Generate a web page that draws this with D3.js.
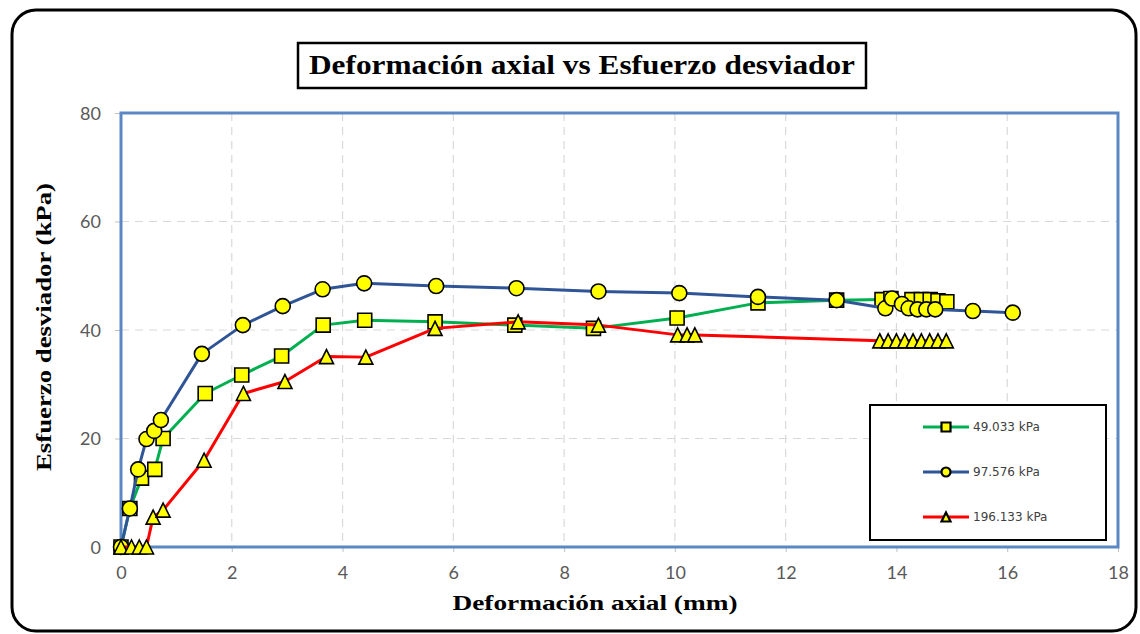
<!DOCTYPE html>
<html>
<head>
<meta charset="utf-8">
<script src="https://cdn.jsdelivr.net/npm/d3@7"></script>
<style>
  html, body { margin: 0; padding: 0; background: #ffffff; }
  svg { display: block; }
</style>
</head>
<body>
<svg id="chart" width="1140" height="634"></svg>
<script>
// Axis ticks
const xTicks = [0, 2, 4, 6, 8, 10, 12, 14, 16, 18];
const yTicks = [0, 20, 40, 60, 80];

// Confining pressure 49.033 kPa
const strain49 = [0, 0.16, 0.37, 0.61, 0.76, 1.52, 2.18, 2.90, 3.65, 4.40, 5.67, 7.11, 8.53, 10.04, 11.50, 12.92, 13.74, 13.90, 14.28, 14.45, 14.61, 14.75, 14.91];
const stress49 = [0, 7.1, 12.7, 14.3, 20.0, 28.3, 31.7, 35.2, 40.9, 41.8, 41.5, 40.9, 40.3, 42.2, 45.0, 45.5, 45.6, 45.8, 45.6, 45.6, 45.6, 45.4, 45.2];

// Confining pressure 97.576 kPa
const strain97 = [0, 0.16, 0.31, 0.46, 0.60, 0.72, 1.46, 2.20, 2.92, 3.64, 4.39, 5.69, 7.14, 8.62, 10.08, 11.50, 12.92, 13.80, 13.92, 14.10, 14.22, 14.38, 14.54, 14.70, 15.38, 16.10];
const stress97 = [0, 7.1, 14.3, 19.9, 21.4, 23.4, 35.6, 40.9, 44.4, 47.5, 48.6, 48.1, 47.7, 47.1, 46.8, 46.1, 45.5, 44.0, 45.8, 44.8, 44.0, 43.8, 43.8, 43.8, 43.5, 43.2];

// Confining pressure 196.133 kPa
const strain196 = [0, 0.19, 0.33, 0.46, 0.58, 0.76, 1.50, 2.21, 2.96, 3.71, 4.42, 5.67, 7.17, 8.62, 10.05, 10.22, 10.36, 13.70, 13.85, 14.00, 14.15, 14.30, 14.45, 14.60, 14.75, 14.90];
const stress196 = [0, 0, 0, 0, 5.5, 6.8, 16.0, 28.3, 30.5, 35.1, 35.0, 40.3, 41.5, 40.9, 39.1, 39.1, 39.1, 38.0, 38.0, 38.0, 38.0, 38.0, 38.0, 38.0, 38.0, 38.0];

const seriesNames = ["49.033 kPa", "97.576 kPa", "196.133 kPa"];
const seriesColors = ["#00b050", "#2f5597", "#ff0000"];
const seriesShapes = ["square", "circle", "triangle"];

const series = [
  { name: seriesNames[0], xs: strain49, ys: stress49, color: seriesColors[0], shape: seriesShapes[0] },
  { name: seriesNames[1], xs: strain97, ys: stress97, color: seriesColors[1], shape: seriesShapes[1] },
  { name: seriesNames[2], xs: strain196, ys: stress196, color: seriesColors[2], shape: seriesShapes[2] }
];

const svg = d3.select("#chart");
const plot = { left: 121, right: 1118, top: 113, bottom: 547 };

const x = d3.scaleLinear().domain([0, 18]).range([plot.left, plot.right]);
const y = d3.scaleLinear().domain([0, 80]).range([plot.bottom, plot.top]);

// Outer rounded frame
svg.append("rect")
  .attr("x", 12).attr("y", 10)
  .attr("width", 1124).attr("height", 621)
  .attr("rx", 24).attr("ry", 24)
  .attr("fill", "#ffffff")
  .attr("stroke", "#000000")
  .attr("stroke-width", 3);

// Grid lines
const grid = svg.append("g");
grid.selectAll(".vg").data(xTicks.filter(d => d > 0 && d < 18)).enter()
  .append("line")
  .attr("x1", d => x(d)).attr("x2", d => x(d))
  .attr("y1", plot.top).attr("y2", plot.bottom)
  .attr("stroke", "#d9d9d9").attr("stroke-width", 1.2)
  .attr("stroke-dasharray", "8,6");
grid.selectAll(".hg").data(yTicks.filter(d => d > 0 && d < 80)).enter()
  .append("line")
  .attr("x1", plot.left).attr("x2", plot.right)
  .attr("y1", d => y(d)).attr("y2", d => y(d))
  .attr("stroke", "#d9d9d9").attr("stroke-width", 1.2)
  .attr("stroke-dasharray", "8,6");

// Axes (ticks + labels)
const xAxis = d3.axisBottom(x).tickValues(xTicks).tickSize(5).tickPadding(14).tickFormat(d3.format("d"));
const yAxis = d3.axisLeft(y).tickValues(yTicks).tickSize(6).tickPadding(14).tickFormat(d3.format("d"));

const gx = svg.append("g").attr("transform", `translate(0,${plot.bottom})`).call(xAxis);
const gy = svg.append("g").attr("transform", `translate(${plot.left},0)`).call(yAxis);
[gx, gy].forEach(g => {
  g.select(".domain").remove();
  g.selectAll(".tick line").attr("stroke", "#bfbfbf");
  g.selectAll(".tick text")
    .attr("fill", "#595959")
    .style("font-family", "Lato, 'Liberation Sans', sans-serif")
    .style("font-size", "18px");
});
gy.selectAll(".tick text").attr("dy", "0.35em");

// Plot area border
svg.append("rect")
  .attr("x", plot.left).attr("y", plot.top)
  .attr("width", plot.right - plot.left).attr("height", plot.bottom - plot.top)
  .attr("fill", "none")
  .attr("stroke", "#5b87c4")
  .attr("stroke-width", 3);

// Marker path builder
function markerPath(shape, s) {
  const h = s / 2;
  if (shape === "square") {
    return `M${-h},${-h}H${h}V${h}H${-h}Z`;
  }
  if (shape === "triangle") {
    return `M0,${-h}L${h},${h}L${-h},${h}Z`;
  }
  return d3.symbol().type(d3.symbolCircle).size(Math.PI * h * h)();
}

const line = d3.line().x(d => x(d[0])).y(d => y(d[1]));

series.forEach(s => {
  const pts = s.xs.map((v, i) => [v, s.ys[i]]);
  const g = svg.append("g");
  g.append("path")
    .datum(pts)
    .attr("d", line)
    .attr("fill", "none")
    .attr("stroke", s.color)
    .attr("stroke-width", 3)
    .attr("stroke-linejoin", "round");
  const size = s.shape === "circle" ? 15 : 14;
  g.selectAll("path.mk").data(pts).enter()
    .append("path")
    .attr("class", "mk")
    .attr("transform", d => `translate(${x(d[0])},${y(d[1])})`)
    .attr("d", markerPath(s.shape, size))
    .attr("fill", "#ffff00")
    .attr("stroke", "#000000")
    .attr("stroke-width", 1.6);
});

// Title box
const title = svg.append("g");
title.append("rect")
  .attr("x", 298).attr("y", 43)
  .attr("width", 568).attr("height", 45)
  .attr("fill", "#ffffff")
  .attr("stroke", "#000000")
  .attr("stroke-width", 2.5);
title.append("text")
  .attr("x", 582).attr("y", 74)
  .attr("text-anchor", "middle")
  .attr("textLength", 546)
  .attr("lengthAdjust", "spacingAndGlyphs")
  .style("font-family", "'Liberation Serif', 'DejaVu Serif', serif")
  .style("font-weight", "bold")
  .style("font-size", "27px")
  .attr("fill", "#000000")
  .text("Deformación axial vs Esfuerzo desviador");

// Axis titles
svg.append("text")
  .attr("x", 595).attr("y", 610)
  .attr("text-anchor", "middle")
  .attr("textLength", 285)
  .attr("lengthAdjust", "spacingAndGlyphs")
  .style("font-family", "'Liberation Serif', 'DejaVu Serif', serif")
  .style("font-weight", "bold")
  .style("font-size", "22px")
  .attr("fill", "#000000")
  .text("Deformación axial (mm)");

svg.append("text")
  .attr("transform", "translate(51,327) rotate(-90)")
  .attr("text-anchor", "middle")
  .attr("textLength", 288)
  .attr("lengthAdjust", "spacingAndGlyphs")
  .style("font-family", "'Liberation Serif', 'DejaVu Serif', serif")
  .style("font-weight", "bold")
  .style("font-size", "22px")
  .attr("fill", "#000000")
  .text("Esfuerzo desviador (kPa)");

// Legend
const legend = svg.append("g");
legend.append("rect")
  .attr("x", 870).attr("y", 405)
  .attr("width", 236).attr("height", 135)
  .attr("fill", "#ffffff")
  .attr("stroke", "#000000")
  .attr("stroke-width", 2);
const legendRowY = [427, 472, 517];
series.forEach((s, i) => {
  const ly = legendRowY[i];
  legend.append("line")
    .attr("x1", 923).attr("x2", 969)
    .attr("y1", ly).attr("y2", ly)
    .attr("stroke", s.color).attr("stroke-width", 3);
  legend.append("path")
    .attr("transform", `translate(946,${ly})`)
    .attr("d", markerPath(s.shape, 9))
    .attr("fill", "#ffff00")
    .attr("stroke", "#000000")
    .attr("stroke-width", 2.2);
  legend.append("text")
    .attr("x", 973).attr("y", ly + 4)
    .style("font-family", "'DejaVu Sans', Verdana, sans-serif")
    .style("font-size", "12px")
    .attr("fill", "#404040")
    .text(s.name);
});
</script>
</body>
</html>
